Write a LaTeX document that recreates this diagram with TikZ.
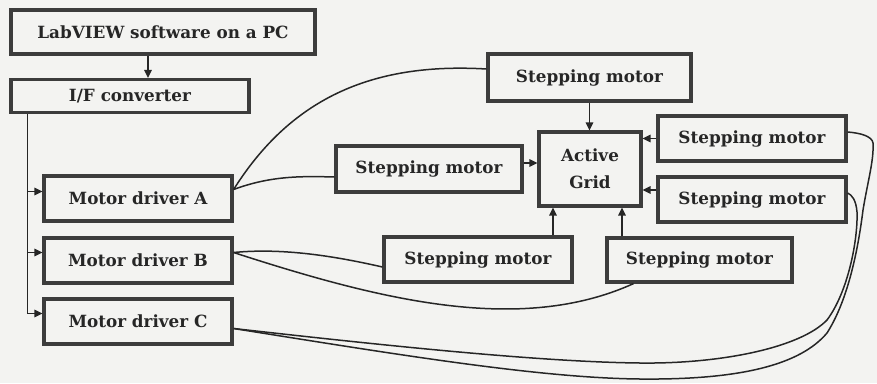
\documentclass[tikz,border=0pt]{standalone}
\usepackage{fontspec}
\setmainfont{DejaVu Serif}
\usetikzlibrary{arrows.meta,calc}
\definecolor{bg}{HTML}{F3F3F1}
\definecolor{ink}{HTML}{262626}
\definecolor{edge}{HTML}{3C3C3C}
\begin{document}
\begin{tikzpicture}[x=1pt,y=-1pt,
  box/.style={draw=edge, line width=3.2pt, fill=bg, text=ink,
    font=\fontsize{16.8}{19}\selectfont\bfseries, inner sep=0pt},
  wire/.style={draw=ink, line width=1.5pt},
  arr/.style={wire, -{Triangle[length=8pt,width=7.5pt]}}]
\fill[bg] (0,0) rectangle (877,383);
\useasboundingbox (0,0) rectangle (877,383);
% left column
\node[box, minimum width=304pt, minimum height=44pt] (lab) at (163,32) {LabVIEW software on a PC};
\node[box, minimum width=238pt, minimum height=33pt] (ifc) at (130,96) {I/F converter};
\node[box, minimum width=188pt, minimum height=45pt] (mdA) at (138,198.5) {Motor driver A};
\node[box, minimum width=188pt, minimum height=45pt] (mdB) at (138,260.5) {Motor driver B};
\node[box, minimum width=188pt, minimum height=45pt] (mdC) at (138,321.5) {Motor driver C};
% right group
\node[box, minimum width=203pt, minimum height=47pt] (smT) at (589.5,77.5) {Stepping motor};
\node[box, minimum width=102pt, minimum height=74pt, align=center, font=\fontsize{16.8}{27}\selectfont\bfseries] (grid) at (590,169) {Active\\Grid};
\node[box, minimum width=186pt, minimum height=46pt] (smL) at (429,169) {Stepping motor};
\node[box, minimum width=188pt, minimum height=45pt] (smR1) at (752,138.5) {Stepping motor};
\node[box, minimum width=188pt, minimum height=45pt] (smR2) at (752,199.5) {Stepping motor};
\node[box, minimum width=188pt, minimum height=45pt] (smB) at (478,259.5) {Stepping motor};
\node[box, minimum width=185pt, minimum height=44pt] (smBR) at (699.5,260) {Stepping motor};
% left connectors
\coordinate (labdown) at ([xshift=-15pt]lab.south);
\draw[arr] (labdown) -- (labdown |- ifc.north);
\coordinate (busTop) at ($(ifc.south west)+(18,0)$);
\coordinate (inA) at ([yshift=7pt]mdA.west);
\coordinate (inB) at ([yshift=8pt]mdB.west);
\coordinate (inC) at ([yshift=8pt]mdC.west);
\draw[wire] (busTop) -- (busTop |- inC);
\draw[arr] (busTop |- inA) -- (inA);
\draw[arr] (busTop |- inB) -- (inB);
\draw[arr] (busTop |- inC) -- (inC);
% arrows into the grid
\draw[arr] (smT.south) -- (smT.south |- grid.north);
\coordinate (l1) at ([yshift=6pt]smL.east);
\draw[arr] (l1) -- (l1 -| grid.west);
\draw[arr] (smR1.west) -- (smR1.west -| grid.east);
\coordinate (r2) at ([yshift=9.5pt]smR2.west);
\draw[arr] (r2) -- (r2 -| grid.east);
\coordinate (b1) at ([xshift=75pt]smB.north);
\draw[arr] (b1) -- (b1 |- grid.south);
\coordinate (b2) at ([xshift=-77.5pt]smBR.north);
\draw[arr] (b2) -- (b2 |- grid.south);
% cables
\coordinate (a1) at ([yshift=9pt]mdA.east);
\coordinate (t1) at ([yshift=8.5pt]smT.west);
\coordinate (l2) at ([yshift=-8pt]smL.west);
\draw[wire] (a1) .. controls (290,100) and (370,62) .. (t1);
\draw[wire] (a1) .. controls (270,176) and (300,176) .. (l2);
\coordinate (bb) at ([yshift=8pt]mdB.east);
\coordinate (m1) at ([yshift=-7.5pt]smB.west);
\coordinate (m2) at ([xshift=-66pt]smBR.south);
\draw[wire] (bb) .. controls (280,248) and (330,255) .. (m1);
\draw[wire] (bb) .. controls (380,300) and (520,335) .. (m2);
\coordinate (cc) at ([yshift=-7pt]mdC.east);
\coordinate (e2) at ([yshift=6.5pt]smR2.east);
\coordinate (e1) at ([yshift=6.5pt]smR1.east);
\draw[wire] (cc) .. controls (380,345) and (540,362) .. (640,363)
  .. controls (720,364) and (800,348) .. (827,320)
  .. controls (848,292) and (858,240) .. (857,212)
  .. controls (856,200) and (852,195) .. (e2);
\draw[wire] (cc) .. controls (400,355) and (540,378) .. (640,379)
  .. controls (740,380) and (800,365) .. (827,333)
  .. controls (848,300) and (858,250) .. (863,210)
  .. controls (868,180) and (874,160) .. (873,143)
  .. controls (872,136) and (860,133) .. (e1);
\end{tikzpicture}
\end{document}
